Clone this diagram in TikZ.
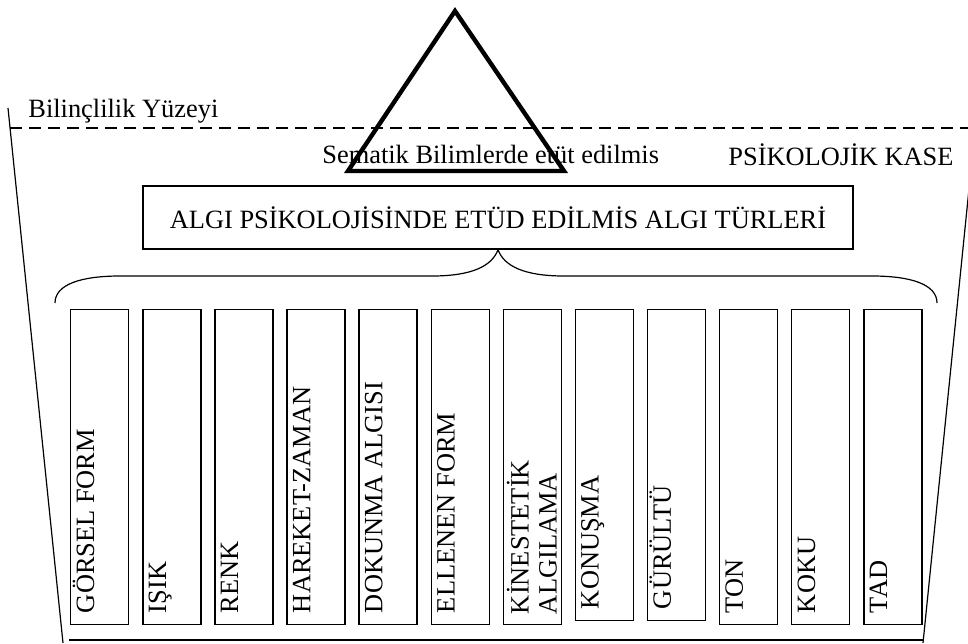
\documentclass[tikz,border=0pt]{standalone}
\usepackage{fontspec}
\setmainfont{Liberation Serif}
\begin{document}
\begin{tikzpicture}[x=0.5pt,y=-0.5pt,
  font=\fontsize{13.2pt}{14pt}\selectfont,
  thinline/.style={line width=0.6pt},
  vbox/.style={draw, line width=0.7pt, minimum width=29pt, anchor=north west, inner sep=0pt},
  vlabel/.style={rotate=90, anchor=base west, inner sep=0pt},
  plain/.style={anchor=base west, inner sep=0pt}]
\useasboundingbox (0,0) rectangle (968,643);
\clip (0,0) rectangle (968,643);

% bowl outline
\coordinate (lt) at (8,108);
\coordinate (lb) at (63,643);
\coordinate (rt) at (978,100);
\coordinate (rb) at (923,643);
\coordinate (bl) at (69,640);
\coordinate (br) at (923,640);
\coordinate (dl) at (10,128);
\coordinate (dr) at (968,128);
\draw[thinline] (lt) -- (lb);
\draw[thinline] (rt) -- (rb);
\draw[line width=0.8pt] (bl) -- (br);
\draw[line width=0.7pt, dash pattern=on 6pt off 3.5pt] (dl) -- (dr);

% labels
\node[plain] (bil) at (28,117) {Bilinçlilik Yüzeyi};
\node[plain] (sem) at (322,163) {Sematik Bilimlerde etüt edilmis};
\node[plain] (kase) at (728,165) {PSİKOLOJİK KASE};

% triangle
\coordinate (ta) at (455,11);
\coordinate (tl) at (348,171);
\coordinate (tr) at (564,171);
\draw[line width=2.2pt] (ta) -- (tl) -- (tr) -- cycle;

% main box
\node[draw, line width=0.7pt, minimum width=355pt, minimum height=31.5pt, inner sep=0pt]
  (main) at (498,217.5) {ALGI PSİKOLOJİSİNDE ETÜD EDİLMİS ALGI TÜRLERİ};

% brace
\coordinate (brL) at (55,303);
\coordinate (brR) at (937,303);
\draw[thinline] (brL) .. controls (55,284) and (82,276) .. (120,276)
  -- (432,276) .. controls (472,276) and (492,266) .. (main.south)
  .. controls (504,266) and (524,276) .. (564,276)
  -- (872,276) .. controls (910,276) and (937,284) .. (brR);

% vertical boxes
\foreach \i/\t/\hh in {0/GÖRSEL FORM/157.5pt, 1/IŞIK/157.5pt, 2/RENK/157.5pt,
  3/HAREKET-ZAMAN/157.5pt, 4/DOKUNMA ALGISI/157.5pt, 5/ELLENEN FORM/157.5pt,
  7/KONUŞMA/155.5pt, 8/GÜRÜLTÜ/155.5pt, 9/TON/157.5pt, 10/KOKU/157.5pt, 11/TAD/157.5pt}{
  \node[vbox, minimum height=\hh] (b\i) at ({70+72.1*\i},309) {};
  \node[vlabel] (t\i) at ([xshift=12pt, yshift=6pt]b\i.south west) {\t};
}
\node[vbox, minimum height=157.5pt] (b6) at ({70+72.1*6},309) {};
\node[vlabel] (t6) at ([xshift=13pt, yshift=5.5pt]b6.south west)
  {\begin{tabular}[t]{@{}l@{}}KİNESTETİK\\ALGILAMA\end{tabular}};
\end{tikzpicture}
\end{document}
